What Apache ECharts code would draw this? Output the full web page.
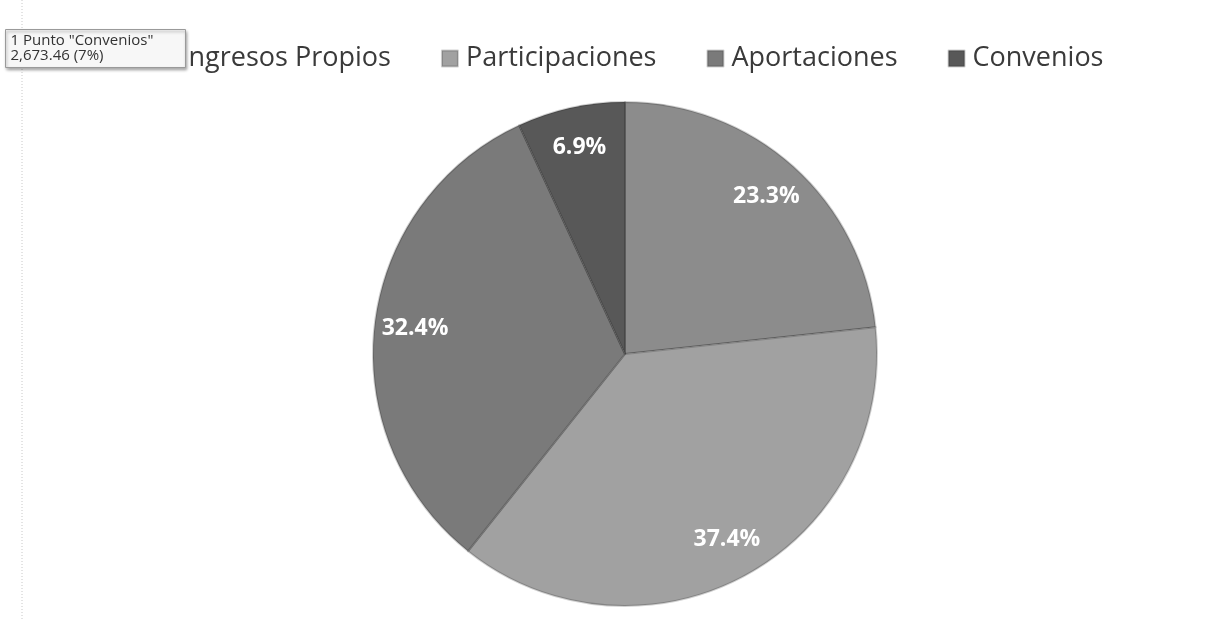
<!DOCTYPE html>
<html>
<head>
<meta charset="utf-8">
<title>Ingresos</title>
<script src="https://cdn.jsdelivr.net/npm/echarts@6/dist/echarts.min.js"></script>
<style>
  html, body { margin: 0; padding: 0; background: #fff; }
  #main { width: 1212px; height: 620px; }
</style>
</head>
<body>
<div id="main"></div>
<script>
// datos
const categories = ['Ingresos Propios', 'Participaciones', 'Aportaciones', 'Convenios'];
const values = [9027.8, 14490.9, 12553.6, 2673.46];
const colors = ['#8c8c8c', '#a1a1a1', '#7a7a7a', '#585858'];
const tipLines = ['1 Punto "Convenios"', '2,673.46 (7%)'];

const pieData = categories.map((name, i) => ({ name: name, value: values[i] }));

const myChart = echarts.init(document.getElementById('main'));
const option = {
  backgroundColor: '#ffffff',
  color: colors,
  animation: false,
  legend: {
    data: categories,
    left: 151,
    top: 40,
    icon: 'rect',
    itemWidth: 16,
    itemHeight: 16,
    itemGap: 50,
    textStyle: { fontFamily: 'Open Sans', fontSize: 27, color: '#3a3a3a', padding: [0, 0, 0, 3] }
  },
  series: [
    {
      // pastel
      type: 'pie',
      center: [625, 354],
      radius: 252,
      startAngle: 90,
      clockwise: true,
      data: pieData,
      label: { show: false },
      labelLine: { show: false },
      itemStyle: { borderColor: 'rgba(0,0,0,0.18)', borderWidth: 2 },
      emphasis: { disabled: true }
    },
    {
      // anillo transparente solo para colocar etiquetas hacia el borde
      type: 'pie',
      center: [625, 354],
      radius: [165, 252],
      startAngle: 90,
      clockwise: true,
      silent: true,
      data: pieData,
      itemStyle: { color: 'rgba(0,0,0,0)' },
      labelLine: { show: false },
      label: {
        show: true,
        position: 'inside',
        color: '#fff',
        fontFamily: 'Open Sans',
        fontWeight: 'bold',
        fontSize: 23,
        formatter: p => p.percent.toFixed(1) + '%'
      },
      emphasis: { disabled: true }
    }
  ],
  graphic: [
    {
      type: 'line',
      shape: { x1: 22, y1: 0, x2: 22, y2: 620 },
      style: { stroke: '#c8c8c8', lineWidth: 1, lineDash: [1, 2] }
    },
    {
      // recuadro del tooltip que aparece en la captura
      type: 'group',
      left: 5,
      top: 29,
      z: 100,
      children: [
        {
          type: 'rect',
          z: 100,
          shape: { x: 0, y: 0, width: 180, height: 38 },
          style: {
            fill: '#f7f7f7', stroke: '#9a9a9a', lineWidth: 1,
            shadowBlur: 3, shadowOffsetX: 1, shadowOffsetY: 2, shadowColor: 'rgba(0,0,0,0.35)'
          }
        },
        {
          type: 'text',
          z: 101,
          x: 5, y: 4,
          style: { text: tipLines.join('\n'), font: '15px "Open Sans"', fill: '#333', lineHeight: 15 }
        }
      ]
    }
  ]
};
myChart.setOption(option);
</script>
</body>
</html>
